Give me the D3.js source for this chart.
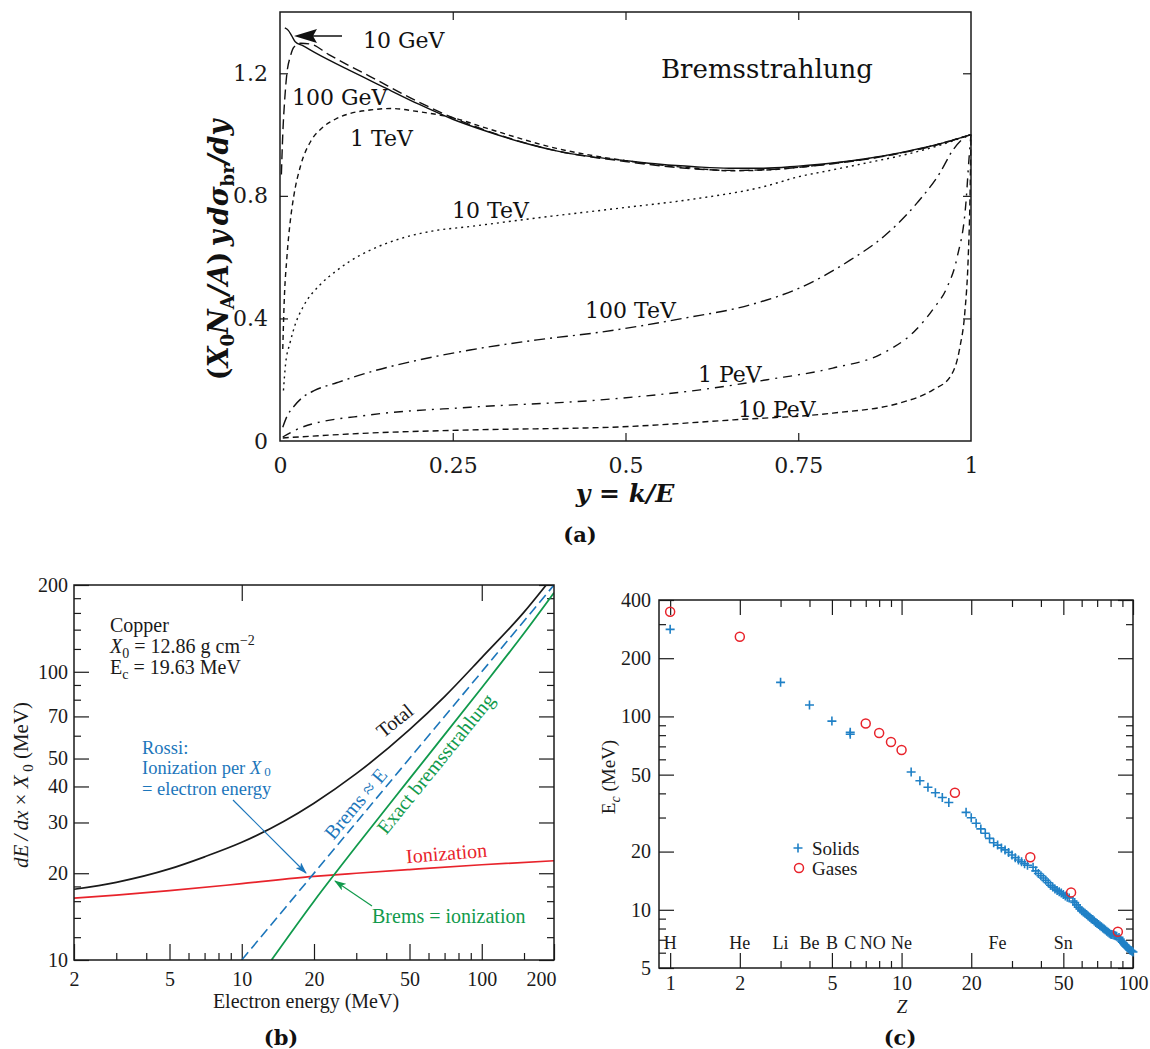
<!DOCTYPE html>
<html>
<head>
<meta charset="utf-8">
<script src="https://cdn.jsdelivr.net/npm/d3@7"></script>
<style>
  body { margin: 0; background: #fff; }
  svg { display: block; }
</style>
</head>
<body>
<svg id="fig" width="1150" height="1049"></svg>
<script>
// ---------------- Panel (a): bremsstrahlung spectra y dσ/dy ----------------
const aTicksX = [0, 0.25, 0.5, 0.75, 1];
const aTicksY = [0, 0.4, 0.8, 1.2];

const brem10GeV = [[0.007,1.348],[0.012,1.34],[0.017,1.322],[0.022,1.303],[0.033,1.29],[0.05,1.268],[0.1,1.21],[0.13,1.177],[0.15,1.155],[0.2,1.1],[0.25,1.05],[0.3,1.01],[0.35,0.975],[0.4,0.947],[0.45,0.928],[0.5,0.915],[0.55,0.903],[0.6,0.895],[0.65,0.89],[0.7,0.89],[0.75,0.897],[0.8,0.907],[0.85,0.922],[0.9,0.942],[0.95,0.967],[1.0,1.0]];
const brem100GeV = [[0.002,0.87],[0.004,1.0],[0.007,1.12],[0.01,1.2],[0.015,1.255],[0.02,1.285],[0.03,1.298],[0.045,1.295],[0.07,1.262],[0.1,1.225],[0.13,1.19],[0.2,1.107],[0.25,1.055],[0.3,1.012],[0.4,0.947],[0.5,0.912],[0.6,0.888],[0.65,0.883],[0.7,0.885],[0.75,0.893],[0.8,0.905],[0.85,0.92],[0.9,0.94],[0.95,0.966],[1.0,1.0]];
const brem1TeV = [[0.004,0.30],[0.006,0.45],[0.01,0.6],[0.015,0.72],[0.02,0.8],[0.03,0.9],[0.045,0.98],[0.06,1.02],[0.08,1.05],[0.1,1.068],[0.13,1.08],[0.16,1.085],[0.2,1.075],[0.25,1.055],[0.3,1.02],[0.4,0.955],[0.5,0.915],[0.6,0.89],[0.65,0.882],[0.7,0.884],[0.75,0.893],[0.8,0.906],[0.85,0.921],[0.9,0.941],[0.95,0.967],[1.0,1.0]];
const brem10TeV = [[0.005,0.165],[0.008,0.25],[0.0145,0.32],[0.022,0.38],[0.034,0.44],[0.058,0.51],[0.082,0.556],[0.1,0.585],[0.13,0.622],[0.178,0.663],[0.22,0.685],[0.275,0.70],[0.372,0.728],[0.492,0.76],[0.6,0.79],[0.7,0.83],[0.75,0.862],[0.8,0.885],[0.85,0.908],[0.9,0.932],[0.95,0.962],[1.0,1.0]];
const brem100TeV = [[0.004,0.045],[0.01,0.08],[0.019,0.11],[0.033,0.143],[0.05,0.165],[0.082,0.19],[0.13,0.225],[0.2,0.264],[0.275,0.297],[0.372,0.33],[0.463,0.355],[0.583,0.40],[0.68,0.444],[0.7525,0.50],[0.825,0.59],[0.873,0.666],[0.922,0.777],[0.955,0.875],[0.974,0.95],[0.994,0.995],[1.0,1.0]];
const brem1PeV = [[0.004,0.013],[0.033,0.046],[0.13,0.085],[0.275,0.11],[0.463,0.134],[0.608,0.167],[0.705,0.20],[0.8,0.238],[0.873,0.287],[0.92,0.362],[0.945,0.43],[0.965,0.50],[0.98,0.60],[0.993,0.787],[0.997,0.918],[1.0,1.0]];
const brem10PeV = [[0.004,0.01],[0.13,0.026],[0.275,0.036],[0.492,0.046],[0.656,0.069],[0.8,0.091],[0.897,0.124],[0.945,0.167],[0.97,0.21],[0.984,0.307],[0.991,0.418],[0.996,0.6],[0.9985,0.787],[1.0,1.0]];

const aSeries = [
  { name: "10 GeV",  data: brem10GeV,  dash: null },
  { name: "100 GeV", data: brem100GeV, dash: "10,5" },
  { name: "1 TeV",   data: brem1TeV,   dash: "5,4" },
  { name: "10 TeV",  data: brem10TeV,  dash: "2,4" },
  { name: "100 TeV", data: brem100TeV, dash: "11,5,2,5" },
  { name: "1 PeV",   data: brem1PeV,   dash: "9,6,2,6" },
  { name: "10 PeV",  data: brem10PeV,  dash: "6,4" }
];

// ---------------- Panel (b): copper energy loss ----------------
const bTicksXMajor = [2, 5, 10, 20, 50, 100, 200];
const bTicksXMinor = [3, 4, 6, 7, 8, 9, 30, 40, 60, 70, 80, 90, 150];
const bTicksXTop = [10, 100];
const bTicksYMajor = [10, 20, 30, 40, 50, 70, 100, 200];
const bTicksYMinor = [12, 14, 16, 18, 60, 80, 90, 120, 140, 160, 180];

const ionization  = [[2,16.4],[3,16.8],[5,17.4],[10,18.4],[20,19.5],[30,20.0],[50,20.6],[100,21.4],[200,22.1]];
const bremsRossi  = [[10,10],[200,200]];
const bremsExact  = [[13.3,10],[20,16],[30,24.8],[50,42.5],[100,88],[150,136],[200,188]];
const totalLoss   = [[2,17.6],[3,18.6],[5,20.7],[7,22.8],[10,25.6],[15,30.3],[20,35],[30,44.3],[50,63],[70,82],[100,112],[150,161],[190,205]];

// ---------------- Panel (c): critical energy vs Z ----------------
const cTicksXMajor = [1, 2, 5, 10, 20, 50, 100];
const cTicksXMinor = [3, 4, 6, 7, 8, 9, 30, 40, 60, 70, 80, 90];
const cTicksYMajor = [5, 10, 20, 50, 100, 200, 400];
const cTicksYMinor = [6, 7, 8, 9, 30, 40, 60, 70, 80, 90, 300];

const gases = [[1,348],[2,258],[7,92],[8,82],[9,73.7],[10,67],[17,40.3],[36,18.7],[54,12.3],[86,7.7]];
const solids = [
  [1,282],[3,150],[4,114.6],[5,94.6],[6,82.7],[6,80.8],
  [11,51.6],[12,46.5],[13,43.0],[14,40.3],[15,38.1],[16,35.9],
  [19,31.9],[20,29.9],[21,28.0],[22,26.2],[23,24.9],[24,23.4],[25,22.2],[26,21.6],[27,20.9],[28,20.4],[29,19.8],[30,19.2],[31,18.6],[32,18.1],[33,17.7],[34,17.3],[35,17.0],
  [37,16.6],[38,15.9],[39,15.4],[40,15.0],[41,14.6],[42,14.2],[43,13.8],[44,13.4],[45,13.1],[46,12.8],[47,12.6],[48,12.4],[49,12.2],[50,12.0],[51,11.8],[52,11.6],[53,11.5],
  [55,11.1],[56,10.9],[57,10.6],[58,10.3],[59,10.1],[60,9.9],[61,9.75],[62,9.6],[63,9.45],[64,9.3],[65,9.15],[66,9.0],[67,8.9],[68,8.75],[69,8.6],[70,8.5],[71,8.4],[72,8.28],[73,8.16],[74,8.05],[75,7.95],[76,7.85],[77,7.75],[78,7.65],[79,7.56],[80,7.48],[81,7.45],[82,7.42],[83,7.38],[84,7.34],[85,7.3],
  [87,7.2],[88,7.05],[89,6.9],[90,6.8],[91,6.7],[92,6.6],[93,6.5],[94,6.42],[95,6.35],[96,6.28],[97,6.2],[98,6.15],[99,6.1],[100,6.05]
];
const elementSymbols = ["H", "He", "Li", "Be", "B", "C", "NO", "Ne", "Fe", "Sn"];
const elementZ       = [1, 2, 3, 4, 5, 6, 7.5, 10, 26, 50];

// ---------------- drawing ----------------
const svg = d3.select("#fig");
const fA = "'DejaVu Serif', serif";
const fB = "'Liberation Serif', 'Times New Roman', serif";
const ink = "#1a1a1a";
const blue = "#1c76bb", green = "#119a4c", red = "#e8232b";

function axisGroup(parent, orient, scale, values, len, labels, pad, size, family, x, y) {
  const maker = { bottom: d3.axisBottom, top: d3.axisTop, left: d3.axisLeft, right: d3.axisRight }[orient];
  const ax = maker(scale).tickValues(values).tickSizeInner(-len).tickSizeOuter(0)
    .tickPadding(pad).tickFormat(labels ? d3.format("") : () => "");
  const g = parent.append("g").attr("transform", `translate(${x},${y})`).call(ax);
  g.select(".domain").remove();
  g.selectAll("line").attr("stroke", ink).attr("stroke-width", 1.2);
  g.selectAll("text").attr("font-family", family).attr("font-size", size).attr("fill", ink);
  return g;
}

// ===== (a) =====
const ax = d3.scaleLinear().domain([0, 1]).range([280, 971]);
const ay = d3.scaleLinear().domain([0, 1.4]).range([441, 12]);
const gA = svg.append("g");

axisGroup(gA, "bottom", ax, aTicksX.slice(1, -1), 8, false, 0, 22, fA, 0, 441);
axisGroup(gA, "bottom", ax, aTicksX, 0, true, 16, 22, fA, 0, 441);
axisGroup(gA, "top", ax, aTicksX.slice(1, -1), 8, false, 0, 22, fA, 0, 12);
axisGroup(gA, "left", ay, aTicksY.slice(1), 8, false, 0, 22, fA, 280, 0);
axisGroup(gA, "left", ay, aTicksY, 0, true, 12, 22, fA, 280, 0);
axisGroup(gA, "right", ay, aTicksY.slice(1), 8, false, 0, 22, fA, 971, 0);

const lineA = d3.line().x(d => ax(d[0])).y(d => ay(d[1])).curve(d3.curveMonotoneX);
gA.append("g").selectAll("path").data(aSeries).join("path")
  .attr("d", d => lineA(d.data))
  .attr("fill", "none").attr("stroke", "#111").attr("stroke-width", 1.4)
  .attr("stroke-dasharray", d => d.dash);

gA.append("rect").attr("x", 280).attr("y", 12).attr("width", 691).attr("height", 429)
  .attr("fill", "none").attr("stroke", ink).attr("stroke-width", 1.5);

// curve labels
const aLabels = [
  ["10 GeV", 363, 48], ["100 GeV", 292, 105], ["1 TeV", 350, 146], ["10 TeV", 452, 218],
  ["100 TeV", 585, 318], ["1 PeV", 698, 382], ["10 PeV", 738, 417], ["Bremsstrahlung", 661, 78]
];
gA.selectAll("text.lbl").data(aLabels).join("text").attr("class", "lbl")
  .attr("x", d => d[1]).attr("y", d => d[2]).text(d => d[0])
  .attr("font-family", fA).attr("font-size", d => d[0] === "Bremsstrahlung" ? 26 : 22).attr("fill", "#111");

// arrow pointing to the 10 GeV curve
gA.append("line").attr("x1", 342).attr("y1", 36).attr("x2", 312).attr("y2", 36)
  .attr("stroke", "#111").attr("stroke-width", 1.5);
gA.append("path").attr("d", "M294,36 L317,29 L313,36 L317,43 Z").attr("fill", "#111");

// axis titles
const ylA = gA.append("text").attr("transform", "translate(228,250) rotate(-90)")
  .attr("text-anchor", "middle").attr("font-family", fA).attr("font-size", 27)
  .attr("font-weight", "bold").attr("fill", "#111");
ylA.append("tspan").text("(");
ylA.append("tspan").attr("font-style", "italic").text("X");
ylA.append("tspan").attr("font-size", 18).attr("dy", 6).text("0");
ylA.append("tspan").attr("font-style", "italic").attr("dy", -6).text("N");
ylA.append("tspan").attr("font-size", 18).attr("dy", 6).text("A");
ylA.append("tspan").attr("dy", -6).attr("font-style", "italic").text("/A");
ylA.append("tspan").text(")\u2009");
ylA.append("tspan").attr("font-style", "italic").text("y\u2009d\u03C3");
ylA.append("tspan").attr("font-size", 18).attr("dy", 6).text("br");
ylA.append("tspan").attr("font-style", "italic").attr("dy", -6).text("/dy");

gA.append("text").attr("x", 625).attr("y", 502).attr("text-anchor", "middle")
  .attr("font-family", fA).attr("font-size", 25).attr("font-weight", "bold")
  .attr("font-style", "italic").attr("fill", "#111").text("y = k/E");
gA.append("text").attr("x", 580).attr("y", 542).attr("text-anchor", "middle")
  .attr("font-family", fA).attr("font-size", 21).attr("font-weight", "bold")
  .attr("fill", "#111").text("(a)");

// ===== (b) =====
const bx = d3.scaleLog().domain([2, 200]).range([74, 554]);
const by = d3.scaleLog().domain([10, 200]).range([960, 585]);
const gB = svg.append("g");

gB.append("clipPath").attr("id", "clipB").append("rect")
  .attr("x", 74).attr("y", 585).attr("width", 480).attr("height", 375);

const bBottom = axisGroup(gB, "bottom", bx, bTicksXMajor, 16, true, 12, 20, fB, 0, 960);
bBottom.selectAll("text").filter(d => d === 200).attr("dx", -13);
axisGroup(gB, "bottom", bx, bTicksXMinor, 7, false, 0, 20, fB, 0, 960);
axisGroup(gB, "top", bx, bTicksXTop, 16, false, 0, 20, fB, 0, 585);
axisGroup(gB, "left", by, bTicksYMajor, 15, true, 6, 20, fB, 74, 0);
axisGroup(gB, "left", by, bTicksYMinor, 7, false, 0, 20, fB, 74, 0);
axisGroup(gB, "right", by, bTicksYMajor, 15, false, 0, 20, fB, 554, 0);
axisGroup(gB, "right", by, bTicksYMinor, 7, false, 0, 20, fB, 554, 0);

const lineB = d3.line().x(d => bx(d[0])).y(d => by(d[1])).curve(d3.curveMonotoneX);
const lines = gB.append("g").attr("clip-path", "url(#clipB)");
lines.append("path").attr("d", lineB(ionization)).attr("fill", "none").attr("stroke", red).attr("stroke-width", 1.7);
lines.append("path").attr("d", lineB(bremsRossi)).attr("fill", "none").attr("stroke", blue).attr("stroke-width", 1.6).attr("stroke-dasharray", "10,5");
lines.append("path").attr("d", lineB(bremsExact)).attr("fill", "none").attr("stroke", green).attr("stroke-width", 1.8);
lines.append("path").attr("d", lineB(totalLoss)).attr("fill", "none").attr("stroke", ink).attr("stroke-width", 1.7);

gB.append("rect").attr("x", 74).attr("y", 585).attr("width", 480).attr("height", 375)
  .attr("fill", "none").attr("stroke", ink).attr("stroke-width", 1.5);

// material box
const tb = gB.append("g").attr("font-family", fB).attr("font-size", 20).attr("fill", ink);
tb.append("text").attr("x", 110).attr("y", 632).text("Copper");
const t2 = tb.append("text").attr("x", 110).attr("y", 653);
t2.append("tspan").attr("font-style", "italic").text("X");
t2.append("tspan").attr("font-size", 14).attr("dy", 5).text("0");
t2.append("tspan").attr("dy", -5).text(" = 12.86 g cm");
t2.append("tspan").attr("font-size", 14).attr("dy", -8).text("\u22122");
const t3 = tb.append("text").attr("x", 110).attr("y", 674);
t3.append("tspan").text("E");
t3.append("tspan").attr("font-size", 14).attr("dy", 5).text("c");
t3.append("tspan").attr("dy", -5).text(" = 19.63 MeV");

// Rossi note
const tr = gB.append("g").attr("font-family", fB).attr("font-size", 18.5).attr("fill", blue);
tr.append("text").attr("x", 142).attr("y", 754).text("Rossi:");
const r2 = tr.append("text").attr("x", 142).attr("y", 774);
r2.append("tspan").text("Ionization per ");
r2.append("tspan").attr("font-style", "italic").text("X");
r2.append("tspan").attr("font-size", 13).attr("dy", 2).attr("dx", 3).text("0");
tr.append("text").attr("x", 142).attr("y", 795).text("= electron energy");

const defs = svg.append("defs");
[["arrBlue", blue], ["arrGreen", green]].forEach(([id, c]) => {
  defs.append("marker").attr("id", id).attr("viewBox", "0 0 12 8").attr("refX", 11).attr("refY", 4)
    .attr("markerWidth", 12).attr("markerHeight", 8).attr("markerUnits", "userSpaceOnUse").attr("orient", "auto")
    .append("path").attr("d", "M0,0 L12,4 L0,8 L3,4 Z").attr("fill", c);
});
gB.append("line").attr("x1", 233).attr("y1", 800).attr("x2", 306).attr("y2", 873)
  .attr("stroke", blue).attr("stroke-width", 1.2).attr("marker-end", "url(#arrBlue)");
gB.append("line").attr("x1", 372).attr("y1", 906).attr("x2", 335).attr("y2", 881)
  .attr("stroke", green).attr("stroke-width", 1.2).attr("marker-end", "url(#arrGreen)");

gB.append("text").attr("x", 372).attr("y", 923).attr("font-family", fB).attr("font-size", 20)
  .attr("fill", green).text("Brems = ionization");
gB.append("text").attr("transform", "translate(447,860) rotate(-4.5)").attr("text-anchor", "middle")
  .attr("font-family", fB).attr("font-size", 20).attr("fill", red).text("Ionization");
gB.append("text").attr("transform", "translate(399,726) rotate(-39)").attr("text-anchor", "middle")
  .attr("font-family", fB).attr("font-size", 20).attr("fill", ink).text("Total");
gB.append("text").attr("transform", "translate(361,808) rotate(-50)").attr("text-anchor", "middle")
  .attr("font-family", fB).attr("font-size", 20).attr("fill", blue).text("Brems \u2248 E");
gB.append("text").attr("transform", "translate(441,768) rotate(-51)").attr("text-anchor", "middle")
  .attr("font-family", fB).attr("font-size", 20).attr("fill", green).text("Exact bremsstrahlung");

const ylB = gB.append("text").attr("transform", "translate(28,785) rotate(-90)").attr("text-anchor", "middle")
  .attr("font-family", fB).attr("font-size", 21).attr("fill", ink);
ylB.append("tspan").attr("font-style", "italic").text("dE\u2009/\u2009dx");
ylB.append("tspan").text(" \u00D7 ");
ylB.append("tspan").attr("font-style", "italic").text("X");
ylB.append("tspan").attr("font-size", 15).attr("dy", 5).text(" 0");
ylB.append("tspan").attr("dy", -5).text(" (MeV)");

gB.append("text").attr("x", 306).attr("y", 1008).attr("text-anchor", "middle")
  .attr("font-family", fB).attr("font-size", 20).attr("fill", ink).text("Electron energy (MeV)");
gB.append("text").attr("x", 281).attr("y", 1045).attr("text-anchor", "middle")
  .attr("font-family", fA).attr("font-size", 21).attr("font-weight", "bold").attr("fill", "#111").text("(b)");

// ===== (c) =====
const cx = d3.scaleLog().domain([0.895, 100]).range([659, 1133]);
const cy = d3.scaleLog().domain([5, 400]).range([968, 600]);
const gC = svg.append("g");

axisGroup(gC, "bottom", cx, cTicksXMajor, 15, true, 8, 20, fB, 0, 968);
axisGroup(gC, "bottom", cx, cTicksXMinor, 7, false, 0, 20, fB, 0, 968);
axisGroup(gC, "top", cx, cTicksXMajor, 15, false, 0, 20, fB, 0, 600);
axisGroup(gC, "top", cx, cTicksXMinor, 7, false, 0, 20, fB, 0, 600);
axisGroup(gC, "left", cy, cTicksYMajor, 15, true, 8, 20, fB, 659, 0);
axisGroup(gC, "left", cy, cTicksYMinor, 7, false, 0, 20, fB, 659, 0);
axisGroup(gC, "right", cy, cTicksYMajor, 15, false, 0, 20, fB, 1133, 0);
axisGroup(gC, "right", cy, cTicksYMinor, 7, false, 0, 20, fB, 1133, 0);

gC.append("rect").attr("x", 659).attr("y", 600).attr("width", 474).attr("height", 368)
  .attr("fill", "none").attr("stroke", ink).attr("stroke-width", 1.5);

const plus = "M-4.5,0 H4.5 M0,-4.5 V4.5";
gC.append("g").selectAll("path").data(solids).join("path")
  .attr("transform", d => `translate(${cx(d[0])},${cy(d[1])})`)
  .attr("d", plus).attr("stroke", "#1f80c6").attr("stroke-width", 1.6).attr("fill", "none");
gC.append("g").selectAll("circle").data(gases).join("circle")
  .attr("cx", d => cx(d[0])).attr("cy", d => cy(d[1])).attr("r", 4.5)
  .attr("fill", "none").attr("stroke", red).attr("stroke-width", 1.5);

gC.append("g").selectAll("text").data(elementSymbols).join("text")
  .attr("x", (d, i) => cx(elementZ[i])).attr("y", 949).attr("text-anchor", "middle")
  .attr("font-family", fB).attr("font-size", 18).attr("fill", ink).text(d => d);

// legend
gC.append("path").attr("transform", "translate(798,848)").attr("d", plus)
  .attr("stroke", "#1f80c6").attr("stroke-width", 1.6);
gC.append("circle").attr("cx", 799).attr("cy", 868).attr("r", 4.5)
  .attr("fill", "none").attr("stroke", red).attr("stroke-width", 1.5);
gC.append("text").attr("x", 812).attr("y", 855).attr("font-family", fB).attr("font-size", 19).attr("fill", ink).text("Solids");
gC.append("text").attr("x", 812).attr("y", 875).attr("font-family", fB).attr("font-size", 19).attr("fill", ink).text("Gases");

const ylC = gC.append("text").attr("transform", "translate(615,777) rotate(-90)").attr("text-anchor", "middle")
  .attr("font-family", fB).attr("font-size", 19).attr("fill", ink);
ylC.append("tspan").text("E");
ylC.append("tspan").attr("font-size", 14).attr("font-style", "italic").attr("dy", 5).text("c");
ylC.append("tspan").attr("dy", -5).text(" (MeV)");

gC.append("text").attr("x", 902).attr("y", 1013).attr("text-anchor", "middle")
  .attr("font-family", fB).attr("font-size", 19).attr("font-style", "italic").attr("fill", ink).text("Z");
gC.append("text").attr("x", 900).attr("y", 1045).attr("text-anchor", "middle")
  .attr("font-family", fA).attr("font-size", 21).attr("font-weight", "bold").attr("fill", "#111").text("(c)");
</script>
</body>
</html>
